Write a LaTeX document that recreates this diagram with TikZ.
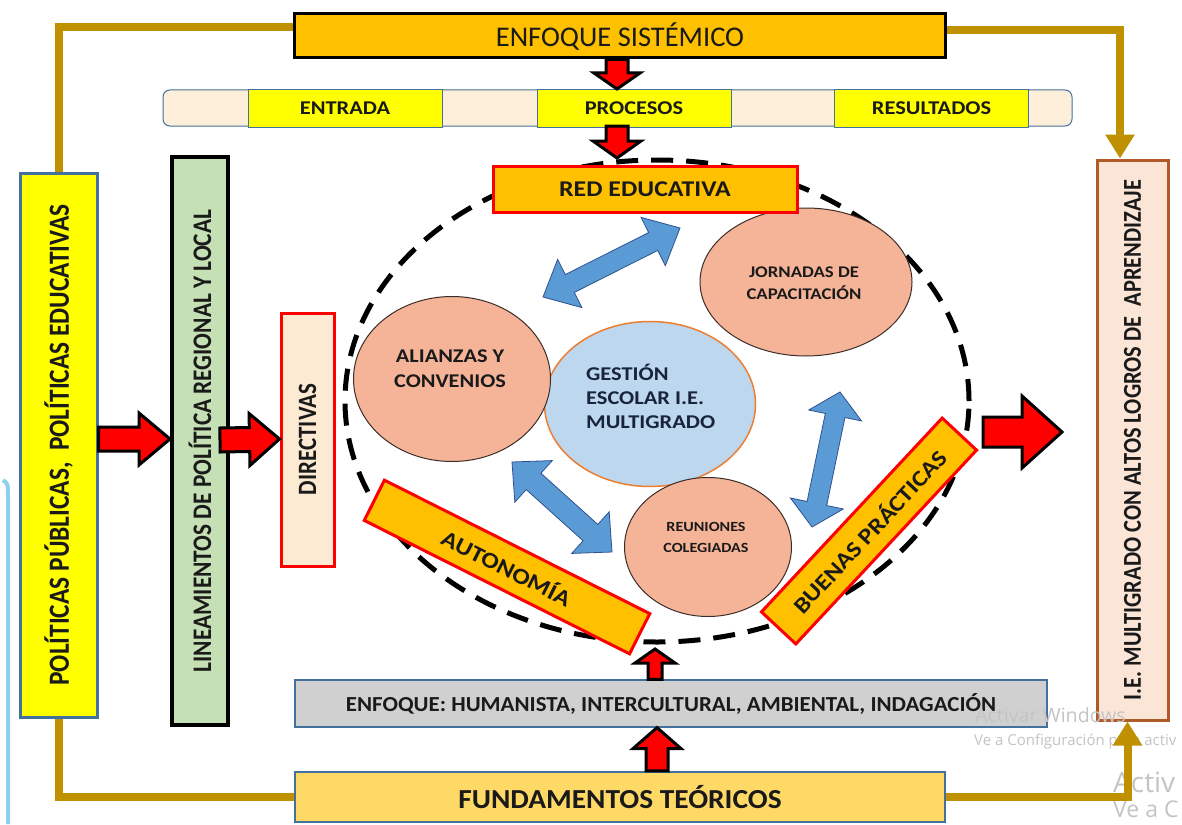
\documentclass[tikz,border=0pt]{standalone}
\usepackage{fontspec}
\usepackage{graphicx}
\setmainfont{Carlito}
\newfontfamily\wfont{Carlito}[FakeStretch=1.15]
\newfontfamily\mfont{Carlito}[FakeStretch=1.07]
\newfontfamily\nfont{Carlito}
\newfontfamily\wmfont{Open Sans}
\usetikzlibrary{shapes.geometric,calc,arrows.meta}

\definecolor{goldc}{RGB}{191,144,0}
\definecolor{orc}{RGB}{255,192,0}
\definecolor{bluebd}{RGB}{65,113,156}
\definecolor{creamc}{RGB}{253,239,217}
\definecolor{yel}{RGB}{255,255,0}
\definecolor{greenc}{RGB}{197,224,180}
\definecolor{dircream}{RGB}{252,235,210}
\definecolor{salmonc}{RGB}{245,180,152}
\definecolor{lblue}{RGB}{189,215,238}
\definecolor{orbd}{RGB}{237,125,49}
\definecolor{barr}{RGB}{91,155,213}
\definecolor{barrbd}{RGB}{47,82,143}
\definecolor{iefill}{RGB}{251,229,214}
\definecolor{iebd}{RGB}{176,90,40}
\definecolor{grayc}{RGB}{208,208,208}
\definecolor{fundc}{RGB}{255,217,102}
\definecolor{txt}{RGB}{26,26,26}
\definecolor{navytxt}{RGB}{25,35,60}
\definecolor{wmc}{RGB}{196,196,196}
\definecolor{skyc}{RGB}{140,210,240}
\definecolor{ellbd}{RGB}{60,45,40}

\newcommand\SingleArrow[6]{%
  \filldraw[#1] ($(#2)!#4!90:(#3)$)
   -- ($($(#3)!#6!(#2)$)!#4!90:(#3)$)
   -- ($($(#3)!#6!(#2)$)!#5!90:(#3)$)
   -- (#3)
   -- ($($(#3)!#6!(#2)$)!#5!-90:(#3)$)
   -- ($($(#3)!#6!(#2)$)!#4!-90:(#3)$)
   -- ($(#2)!#4!-90:(#3)$) -- cycle;}
\newcommand\DoubleArrow[6]{%
  \filldraw[#1] (#2)
   -- ($($(#2)!#6!(#3)$)!#5!90:(#3)$)
   -- ($($(#2)!#6!(#3)$)!#4!90:(#3)$)
   -- ($($(#3)!#6!(#2)$)!#4!90:(#3)$)
   -- ($($(#3)!#6!(#2)$)!#5!90:(#3)$)
   -- (#3)
   -- ($($(#3)!#6!(#2)$)!#5!-90:(#3)$)
   -- ($($(#3)!#6!(#2)$)!#4!-90:(#3)$)
   -- ($($(#2)!#6!(#3)$)!#4!-90:(#3)$)
   -- ($($(#2)!#6!(#3)$)!#5!-90:(#3)$)
   -- cycle;}
\newcommand\vtxt[2]{\rotatebox{90}{\scalebox{1}[1.15]{\nfont\bfseries\fontsize{#1}{#1}\selectfont #2}}}

\tikzset{
  box/.style={draw, inner sep=0pt, text=txt, align=center},
  cell/.style={box, draw=bluebd, fill=yel, line width=1pt, minimum width=194pt, minimum height=37pt,
     font=\wfont\bfseries\fontsize{19.5}{22}\selectfont},
  orbox/.style={box, fill=orc, draw=red, line width=3pt, font=\wfont\bfseries\fontsize{22.5}{24}\selectfont},
  salm/.style={ellipse, fill=salmonc, draw=ellbd, line width=1pt, inner sep=0pt},
  etext/.style={align=center, text=txt, inner sep=0pt},
  goldline/.style={draw=goldc, line width=8pt},
  goldtip/.style={-{Triangle[width=28pt,length=24pt]}},
  redarr/.style={fill=red, draw=black, line width=3pt, line join=miter},
  bluearr/.style={fill=barr, draw=barrbd, line width=0.8pt, line join=miter},
  wm/.style={text=wmc, inner sep=0pt, anchor=base west}
}

\begin{document}
\begin{tikzpicture}[x=1pt,y=-1pt]
\useasboundingbox (0,0) rectangle (1182,824);
\fill[white] (0,0) rectangle (1182,824);

% left light-blue stripe
\draw[skyc, line width=4pt] (3,480) .. controls (8,484) .. (8,496) -- (8,824);

% top
\node[box, fill=orc, draw=black, line width=3pt, minimum width=651pt, minimum height=44pt,
      font=\nfont\fontsize{28.5}{30}\selectfont] (sis) at (620,36) {ENFOQUE SISTÉMICO};
\node[draw=bluebd, fill=creamc, rounded corners=7pt, line width=1pt, minimum width=909pt,
      minimum height=36pt, inner sep=0pt] (strip) at (617.5,108) {};
\node[cell] (ent) at (345,108.5) {ENTRADA};
\node[cell] (pro) at (634,108.5) {PROCESOS};
\node[cell] (res) at (931.5,108.5) {RESULTADOS};

% left boxes
\node[box, fill=yel, draw=bluebd, line width=3pt, minimum width=77pt, minimum height=544pt] (pol)
   at (58.5,445) {\vtxt{25.4}{POLÍTICAS PÚBLICAS,\ \ POLÍTICAS EDUCATIVAS}};
\node[box, fill=greenc, draw=black, line width=4pt, minimum width=56pt, minimum height=568pt] (lin)
   at (200,441) {\vtxt{23.3}{LINEAMIENTOS DE POLÍTICA REGIONAL Y LOCAL}};
\node[box, fill=dircream, draw=red, line width=3pt, minimum width=53pt, minimum height=253pt] (dir)
   at (307.5,439.5) {\vtxt{23}{DIRECTIVAS}};

% right box
\node[box, fill=iefill, draw=iebd, line width=3pt, minimum width=71pt, minimum height=560pt] (ie)
   at (1132.5,440) {\vtxt{22.4}{I.E. MULTIGRADO CON ALTOS LOGROS DE\ \ APRENDIZAJE}};

% gold connectors (top)
\draw[goldline] ([yshift=9pt]sis.west) -| (pol.north);
\draw[goldline, goldtip] ([yshift=6pt]sis.east) -| ([xshift=-12.5pt]ie.north);

% red arrows top
\coordinate (d1s) at ([xshift=-3pt]sis.south);
\coordinate (d1t) at (617,89);
\coordinate (d2s) at (617,126);
\coordinate (d2t) at (617,158);
\SingleArrow{redarr}{d1s}{d1t}{11pt}{23pt}{16pt}
\SingleArrow{redarr}{d2s}{d2t}{11pt}{24pt}{17pt}

% red arrows left
\coordinate (r1s) at ([yshift=6pt]pol.east);
\coordinate (r1t) at ([yshift=2pt]lin.west);
\coordinate (r2s) at ([xshift=-10pt,yshift=1pt]lin.east);
\coordinate (r2t) at ([yshift=0.5pt]dir.west);
\SingleArrow{redarr}{r1s}{r1t}{12pt}{26pt}{31pt}
\SingleArrow{redarr}{r2s}{r2t}{12pt}{26pt}{30pt}

% dashed ring
\node[ellipse, draw=black, line width=5pt, dash pattern=on 22pt off 13pt, minimum width=624pt,
      minimum height=482pt, inner sep=0pt] (ring) at (657,401) {};

% ellipses
\node[ellipse, fill=lblue, draw=orbd, line width=1.5pt, minimum width=211pt, minimum height=165pt,
      inner sep=0pt] (ges) at (650,404) {};
\node[align=left, anchor=west, text=navytxt, inner sep=0pt,
      font=\wfont\bfseries\fontsize{19.5}{24}\selectfont] (gestxt) at (586,396) {GESTIÓN\\ESCOLAR I.E.\\MULTIGRADO};
\node[salm, minimum width=197pt, minimum height=165pt] (ali) at (452,379) {};
\node[etext, font=\wfont\bfseries\fontsize{19.4}{25}\selectfont] (alitxt) at (450,369) {ALIANZAS Y\\CONVENIOS};
\node[salm, minimum width=212pt, minimum height=148pt] (jor) at (806,282) {};
\node[etext, font=\wfont\bfseries\fontsize{16.3}{22}\selectfont] (jortxt) at (804,283) {JORNADAS DE\\CAPACITACIÓN};
\node[salm, minimum width=167pt, minimum height=139pt] (reu) at (708,547) {};
\node[etext, font=\wfont\bfseries\fontsize{14}{21}\selectfont] (reutxt) at (706,537) {REUNIONES\\COLEGIADAS};

% blue double arrows
\coordinate (b1a) at (543,297);
\coordinate (b1b) at (680,228);
\coordinate (b2a) at (512,462);
\coordinate (b2b) at (612,552);
\coordinate (b3a) at (812,527);
\coordinate (b3b) at (840,392);
\DoubleArrow{bluearr}{b1a}{b1b}{10pt}{27pt}{30pt}
\DoubleArrow{bluearr}{b2a}{b2b}{11pt}{28pt}{29pt}
\DoubleArrow{bluearr}{b3a}{b3b}{10pt}{27pt}{24pt}

% orange labels
\node[orbox, minimum width=304pt, minimum height=46pt] (red) at (645,189) {RED EDUCATIVA};
\node[orbox, minimum width=297pt, minimum height=45pt, rotate=-26.7] (aut) at (507,567) {AUTONOMÍA};
\node[orbox, minimum width=265pt, minimum height=47pt, rotate=47] (bue) at (869,531) {BUENAS PRÁCTICAS};

\coordinate (r3s) at (983,432);
\coordinate (r3t) at (1062,432);
\SingleArrow{redarr}{r3s}{r3t}{15pt}{36pt}{40pt}

% bottom
\node[box, fill=grayc, draw=bluebd, line width=1.2pt, minimum width=752pt, minimum height=47pt,
      font=\mfont\bfseries\fontsize{21.4}{23}\selectfont] (enf) at (671,703.5)
      {ENFOQUE: HUMANISTA, INTERCULTURAL, AMBIENTAL, INDAGACIÓN};
\node[box, fill=fundc, draw=bluebd, line width=2.5pt, minimum width=650pt, minimum height=50pt,
      font=\mfont\bfseries\fontsize{27.5}{29}\selectfont] (fund) at (620,797) {FUNDAMENTOS TEÓRICOS};

\coordinate (u1s) at ([xshift=-16pt]enf.north);
\coordinate (u1t) at (655,649);
\coordinate (u2s) at ([xshift=37pt]fund.north);
\coordinate (u2t) at ([xshift=-14pt]enf.south);
\SingleArrow{redarr}{u1s}{u1t}{7pt}{20pt}{14pt}
\SingleArrow{redarr}{u2s}{u2t}{11pt}{24pt}{21pt}

% watermark (under the gold connector)
\node[wm, font=\wmfont\fontsize{19.6}{21}\selectfont] (wm1) at (975,722) {Activar Windows};
\node[wm, font=\wmfont\fontsize{15}{17}\selectfont] (wm2) at (974,745) {Ve a Configuración para activ};
\node[wm, font=\wmfont\fontsize{28}{30}\selectfont] (wm3) at (1113,792) {Activ};
\node[wm, font=\wmfont\fontsize{23}{25}\selectfont] (wm4) at (1113,817) {Ve a C};

% gold connectors (bottom)
\draw[goldline] (pol.south) |- (fund.west);
\draw[goldline, goldtip] (fund.east) -| ([xshift=-5pt]ie.south);
\end{tikzpicture}
\end{document}
